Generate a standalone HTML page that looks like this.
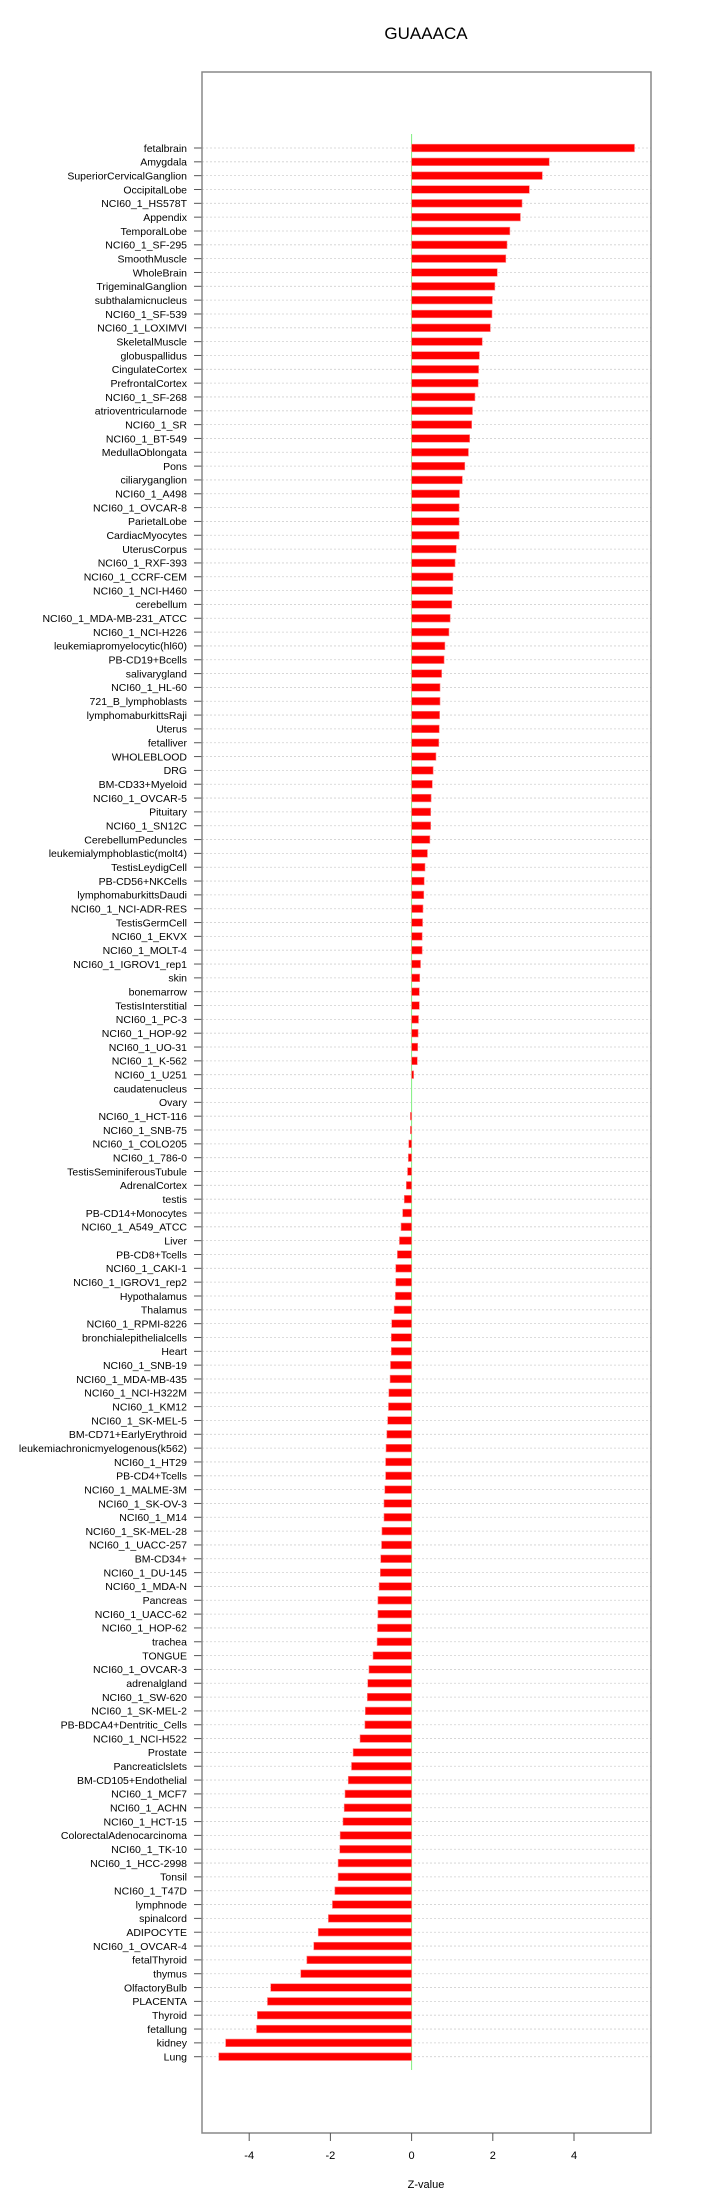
<!DOCTYPE html>
<html><head><meta charset="utf-8"><style>
html,body{margin:0;padding:0;background:#fff;}
svg{display:block;font-family:"Liberation Sans",sans-serif;}
</style></head><body>
<svg id="chart" width="720" height="2205" viewBox="0 0 720 2205" xmlns="http://www.w3.org/2000/svg">
<text x="426" y="39" font-size="17" text-anchor="middle" fill="#000">GUAAACA</text>
<g id="plot"></g>
<text x="426" y="2188" font-size="11" text-anchor="middle" fill="#000">Z-value</text>
</svg>
<script>
const categories = ["fetalbrain","Amygdala","SuperiorCervicalGanglion","OccipitalLobe","NCI60_1_HS578T","Appendix","TemporalLobe","NCI60_1_SF-295","SmoothMuscle","WholeBrain","TrigeminalGanglion","subthalamicnucleus","NCI60_1_SF-539","NCI60_1_LOXIMVI","SkeletalMuscle","globuspallidus","CingulateCortex","PrefrontalCortex","NCI60_1_SF-268","atrioventricularnode","NCI60_1_SR","NCI60_1_BT-549","MedullaOblongata","Pons","ciliaryganglion","NCI60_1_A498","NCI60_1_OVCAR-8","ParietalLobe","CardiacMyocytes","UterusCorpus","NCI60_1_RXF-393","NCI60_1_CCRF-CEM","NCI60_1_NCI-H460","cerebellum","NCI60_1_MDA-MB-231_ATCC","NCI60_1_NCI-H226","leukemiapromyelocytic(hl60)","PB-CD19+Bcells","salivarygland","NCI60_1_HL-60","721_B_lymphoblasts","lymphomaburkittsRaji","Uterus","fetalliver","WHOLEBLOOD","DRG","BM-CD33+Myeloid","NCI60_1_OVCAR-5","Pituitary","NCI60_1_SN12C","CerebellumPeduncles","leukemialymphoblastic(molt4)","TestisLeydigCell","PB-CD56+NKCells","lymphomaburkittsDaudi","NCI60_1_NCI-ADR-RES","TestisGermCell","NCI60_1_EKVX","NCI60_1_MOLT-4","NCI60_1_IGROV1_rep1","skin","bonemarrow","TestisInterstitial","NCI60_1_PC-3","NCI60_1_HOP-92","NCI60_1_UO-31","NCI60_1_K-562","NCI60_1_U251","caudatenucleus","Ovary","NCI60_1_HCT-116","NCI60_1_SNB-75","NCI60_1_COLO205","NCI60_1_786-0","TestisSeminiferousTubule","AdrenalCortex","testis","PB-CD14+Monocytes","NCI60_1_A549_ATCC","Liver","PB-CD8+Tcells","NCI60_1_CAKI-1","NCI60_1_IGROV1_rep2","Hypothalamus","Thalamus","NCI60_1_RPMI-8226","bronchialepithelialcells","Heart","NCI60_1_SNB-19","NCI60_1_MDA-MB-435","NCI60_1_NCI-H322M","NCI60_1_KM12","NCI60_1_SK-MEL-5","BM-CD71+EarlyErythroid","leukemiachronicmyelogenous(k562)","NCI60_1_HT29","PB-CD4+Tcells","NCI60_1_MALME-3M","NCI60_1_SK-OV-3","NCI60_1_M14","NCI60_1_SK-MEL-28","NCI60_1_UACC-257","BM-CD34+","NCI60_1_DU-145","NCI60_1_MDA-N","Pancreas","NCI60_1_UACC-62","NCI60_1_HOP-62","trachea","TONGUE","NCI60_1_OVCAR-3","adrenalgland","NCI60_1_SW-620","NCI60_1_SK-MEL-2","PB-BDCA4+Dentritic_Cells","NCI60_1_NCI-H522","Prostate","Pancreaticlslets","BM-CD105+Endothelial","NCI60_1_MCF7","NCI60_1_ACHN","NCI60_1_HCT-15","ColorectalAdenocarcinoma","NCI60_1_TK-10","NCI60_1_HCC-2998","Tonsil","NCI60_1_T47D","lymphnode","spinalcord","ADIPOCYTE","NCI60_1_OVCAR-4","fetalThyroid","thymus","OlfactoryBulb","PLACENTA","Thyroid","fetallung","kidney","Lung"];
const zValues = [5.49,3.39,3.22,2.9,2.72,2.68,2.42,2.35,2.32,2.11,2.05,1.99,1.98,1.94,1.74,1.67,1.65,1.64,1.56,1.5,1.48,1.43,1.4,1.31,1.25,1.18,1.17,1.17,1.17,1.1,1.07,1.02,1.01,0.99,0.95,0.92,0.82,0.8,0.74,0.7,0.7,0.69,0.68,0.67,0.6,0.53,0.51,0.48,0.47,0.47,0.45,0.39,0.33,0.31,0.3,0.28,0.27,0.26,0.26,0.22,0.2,0.19,0.19,0.17,0.16,0.15,0.14,0.05,0,0,-0.03,-0.03,-0.07,-0.08,-0.1,-0.13,-0.18,-0.22,-0.26,-0.3,-0.35,-0.39,-0.39,-0.4,-0.43,-0.49,-0.5,-0.5,-0.52,-0.53,-0.56,-0.57,-0.59,-0.61,-0.63,-0.64,-0.64,-0.66,-0.68,-0.68,-0.73,-0.74,-0.76,-0.77,-0.8,-0.83,-0.83,-0.84,-0.85,-0.95,-1.05,-1.08,-1.09,-1.14,-1.15,-1.27,-1.44,-1.48,-1.56,-1.64,-1.66,-1.69,-1.76,-1.77,-1.81,-1.81,-1.89,-1.95,-2.05,-2.3,-2.41,-2.58,-2.73,-3.47,-3.55,-3.8,-3.82,-4.58,-4.75];
const xTicks = [-4,-2,0,2,4];

const NS="http://www.w3.org/2000/svg";
const g=document.getElementById('plot');
const L=202,R=651,T=72,B=2133;
const x0=411.6, ppu=40.6;
function xs(v){return x0+v*ppu;}
const yTop=148, yBot=2056.7;
function ys(i){return yTop+i*(yBot-yTop)/(categories.length-1);}
function mk(tag,attrs){const e=document.createElementNS(NS,tag);for(const k in attrs)e.setAttribute(k,attrs[k]);g.appendChild(e);return e;}

categories.forEach((c,i)=>{
  const y=ys(i);
  const gl=mk('line',{x1:L,x2:R,y1:y,y2:y,stroke:'#d0d0d0','stroke-width':0.8,'stroke-dasharray':'2,2'});
  
  
  const tk=mk('line',{x1:194,x2:L,y1:y,y2:y,stroke:'#555','stroke-width':1});
  
  
  const t=mk('text',{x:187,y:y+3.8,'font-size':10.5,'text-anchor':'end',fill:'#000'});
  t.textContent=c;
  
  
});
const zl=mk('line',{x1:x0,x2:x0,y1:134,y2:2070,stroke:'#7fef7f','stroke-width':1});


zValues.forEach((v,i)=>{
  const y=ys(i);
  const a=Math.min(xs(0),xs(v)), w=Math.abs(xs(v)-xs(0));
  if(w<=0) return;
  const r=mk('rect',{x:a,y:y-3.8,width:w,height:7.6,fill:'#ff0000',stroke:'#ff8080','stroke-width':0.6});
  
  
});
const fr=mk('rect',{x:L,y:T,width:R-L,height:B-T,fill:'none',stroke:'#888','stroke-width':1.5});


xTicks.forEach(v=>{
  const tk=mk('line',{x1:xs(v),x2:xs(v),y1:B,y2:B+8,stroke:'#555','stroke-width':1});
  
  
  const t=mk('text',{x:xs(v),y:2159,'font-size':11,'text-anchor':'middle',fill:'#000'});
  t.textContent=String(v);
  
  
});
</script>
</body></html>
